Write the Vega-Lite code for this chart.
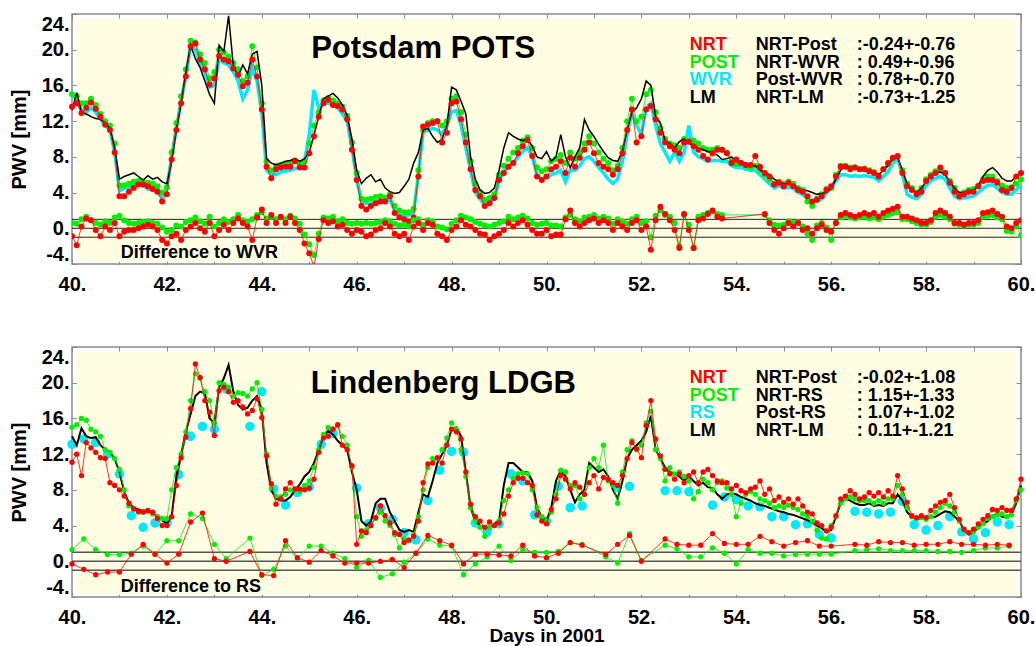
{
"$schema": "https://vega.github.io/schema/vega-lite/v6.json",
"padding": {"left": 8, "top": 12, "right": 12, "bottom": 0},
"spacing": 83,
"bounds": "flush",
"config": {
  "view": {"stroke": "#8a8a8a", "strokeWidth": 1.5, "fill": "#ffffff"},
  "axis": {"grid": false, "domain": false, "labelFont": "Liberation Sans", "labelFontWeight": "bold", "labelFontSize": 20, "labelColor": "#000000", "tickColor": "#8a8a8a", "tickWidth": 1, "titleFont": "Liberation Sans", "titleFontWeight": "bold", "titleFontSize": 20, "titleColor": "#000000", "labelOverlap": false},
  "text": {"font": "Liberation Sans", "fontWeight": "bold"},
  "mark": {"invalid": "filter"}
},
"datasets": {
"top": [
{"x":40.0,"n":13.6,"p":15.0,"w":14.8,"l":13.2,"dn":-0.9,"dp":0.6},
{"x":40.1,"n":14.0,"p":14.8,"w":14.5,"l":15.2,"dn":-1.9,"dp":0.5},
{"x":40.2,"n":12.9,"p":14.0,"w":13.2,"l":13.0,"dn":0.2,"dp":1.0},
{"x":40.3,"n":13.5,"p":14.0,"w":13.0,"l":12.8,"dn":1.1,"dp":1.3},
{"x":40.4,"n":14.1,"p":14.5,"w":13.5,"l":12.5,"dn":0.9,"dp":0.9},
{"x":40.5,"n":13.4,"p":13.8,"w":13.0,"l":12.3,"dn":-0.2,"dp":0.6},
{"x":40.6,"n":12.5,"p":12.8,"w":12.2,"l":12.2,"dn":-0.9,"dp":0.4},
{"x":40.7,"n":11.6,"p":12.0,"w":11.5,"l":11.8,"dn":0.2,"dp":0.8},
{"x":40.8,"n":11.0,"p":11.5,"w":11.0,"l":11.2,"dn":-0.2,"dp":0.6},
{"x":40.9,"n":8.5,"p":9.5,"w":8.5,"l":9.0,"dn":0.6,"dp":1.2},
{"x":41.0,"n":3.6,"p":4.8,"w":4.2,"l":5.5,"dn":-0.9,"dp":1.4},
{"x":41.1,"n":3.6,"p":4.8,"w":4.5,"l":5.8,"dn":-0.4,"dp":0.9},
{"x":41.2,"n":4.1,"p":5.0,"w":4.6,"l":6.0,"dn":-0.2,"dp":0.6},
{"x":41.3,"n":4.5,"p":5.2,"w":4.9,"l":6.2,"dn":-0.2,"dp":0.5},
{"x":41.4,"n":4.9,"p":5.3,"w":5.0,"l":5.8,"dn":0.0,"dp":0.6},
{"x":41.5,"n":4.9,"p":5.2,"w":4.8,"l":5.4,"dn":0.2,"dp":0.7},
{"x":41.6,"n":4.7,"p":5.1,"w":4.4,"l":5.9,"dn":0.4,"dp":0.8},
{"x":41.7,"n":4.4,"p":5.0,"w":4.3,"l":5.5,"dn":0.2,"dp":0.6},
{"x":41.8,"n":4.1,"p":4.7,"w":4.0,"l":5.7,"dn":-0.2,"dp":0.5},
{"x":41.9,"n":3.0,"p":4.0,"w":3.5,"l":5.2,"dn":-1.3,"dp":0.1},
{"x":42.0,"n":3.8,"p":4.6,"w":4.5,"l":5.0,"dn":-1.7,"dp":-0.4},
{"x":42.1,"n":7.7,"p":8.5,"w":8.0,"l":7.5,"dn":-0.9,"dp":-0.2},
{"x":42.2,"n":11.0,"p":11.8,"w":11.2,"l":11.0,"dn":-0.6,"dp":0.3},
{"x":42.3,"n":14.0,"p":14.8,"w":14.3,"l":14.0,"dn":-1.3,"dp":0.2},
{"x":42.4,"n":17.0,"p":17.8,"w":17.0,"l":17.5,"dn":-0.2,"dp":0.7},
{"x":42.5,"n":20.4,"p":21.0,"w":20.5,"l":20.5,"dn":0.2,"dp":0.9},
{"x":42.6,"n":20.7,"p":20.8,"w":20.0,"l":19.0,"dn":0.6,"dp":1.2},
{"x":42.7,"n":18.9,"p":19.5,"w":18.5,"l":18.0,"dn":0.0,"dp":0.8},
{"x":42.8,"n":17.8,"p":18.5,"w":17.5,"l":16.5,"dn":-0.4,"dp":0.5},
{"x":42.9,"n":16.1,"p":16.8,"w":15.8,"l":15.0,"dn":0.6,"dp":1.3},
{"x":43.0,"n":16.8,"p":17.5,"w":16.0,"l":14.0,"dn":-0.9,"dp":0.2},
{"x":43.1,"n":19.3,"p":20.0,"w":19.0,"l":20.5,"dn":-0.2,"dp":0.6},
{"x":43.2,"n":18.9,"p":19.7,"w":18.5,"l":19.8,"dn":0.4,"dp":1.0},
{"x":43.3,"n":18.7,"p":19.2,"w":18.3,"l":23.8,"dn":-0.2,"dp":0.7},
{"x":43.4,"n":17.9,"p":18.5,"w":17.5,"l":18.2,"dn":0.6,"dp":1.0},
{"x":43.5,"n":17.2,"p":17.8,"w":16.5,"l":17.0,"dn":1.1,"dp":1.5},
{"x":43.6,"n":15.9,"p":16.5,"w":14.5,"l":18.3,"dn":0.6,"dp":0.9},
{"x":43.7,"n":16.3,"p":17.0,"w":15.5,"l":17.3,"dn":0.2,"dp":0.7},
{"x":43.8,"n":18.9,"p":20.4,"w":18.0,"l":19.5,"dn":-1.3,"dp":1.0},
{"x":43.9,"n":17.0,"p":18.0,"w":16.5,"l":19.8,"dn":1.2,"dp":1.5},
{"x":44.0,"n":13.3,"p":14.0,"w":13.0,"l":16.0,"dn":2.1,"dp":1.8},
{"x":44.1,"n":6.9,"p":7.5,"w":6.5,"l":7.8,"dn":0.6,"dp":1.1},
{"x":44.2,"n":5.6,"p":6.5,"w":6.0,"l":7.3,"dn":1.5,"dp":1.3},
{"x":44.3,"n":6.6,"p":7.0,"w":6.0,"l":7.1,"dn":0.6,"dp":1.0},
{"x":44.4,"n":6.8,"p":7.1,"w":6.3,"l":7.3,"dn":1.3,"dp":1.2},
{"x":44.5,"n":6.9,"p":7.2,"w":6.4,"l":7.5,"dn":0.6,"dp":1.0},
{"x":44.6,"n":6.9,"p":7.3,"w":6.5,"l":7.6,"dn":1.3,"dp":1.4},
{"x":44.7,"n":7.5,"p":7.6,"w":6.7,"l":7.8,"dn":0.6,"dp":1.1},
{"x":44.8,"n":6.8,"p":7.3,"w":6.8,"l":7.5,"dn":-0.2,"dp":0.5},
{"x":44.9,"n":6.8,"p":7.5,"w":7.5,"l":7.8,"dn":-1.7,"dp":-0.7},
{"x":45.0,"n":8.4,"p":9.5,"w":10.5,"l":8.5,"dn":-2.8,"dp":-1.8},
{"x":45.1,"n":10.3,"p":11.5,"w":15.5,"l":10.5,"dn":-4.3,"dp":-3.0},
{"x":45.2,"n":12.5,"p":13.0,"w":13.5,"l":12.5,"dn":-1.2,"dp":-0.6},
{"x":45.3,"n":14.0,"p":14.3,"w":14.0,"l":14.5,"dn":0.9,"dp":1.2},
{"x":45.4,"n":14.4,"p":14.6,"w":14.0,"l":14.8,"dn":0.6,"dp":1.1},
{"x":45.5,"n":13.8,"p":14.3,"w":13.8,"l":15.1,"dn":0.8,"dp":1.3},
{"x":45.6,"n":13.7,"p":14.0,"w":13.5,"l":14.6,"dn":0.2,"dp":0.8},
{"x":45.7,"n":13.3,"p":13.6,"w":12.8,"l":13.8,"dn":0.4,"dp":1.0},
{"x":45.8,"n":12.2,"p":12.6,"w":12.0,"l":12.6,"dn":-0.2,"dp":0.6},
{"x":45.9,"n":8.8,"p":9.6,"w":9.0,"l":10.0,"dn":-0.6,"dp":0.5},
{"x":46.0,"n":5.4,"p":6.2,"w":5.5,"l":6.5,"dn":-0.2,"dp":0.6},
{"x":46.1,"n":2.5,"p":3.3,"w":3.0,"l":5.0,"dn":-0.4,"dp":0.5},
{"x":46.2,"n":2.1,"p":3.2,"w":2.8,"l":5.6,"dn":-0.9,"dp":0.6},
{"x":46.3,"n":2.5,"p":3.3,"w":2.7,"l":6.0,"dn":-0.7,"dp":0.5},
{"x":46.4,"n":2.8,"p":3.5,"w":3.0,"l":5.2,"dn":-0.2,"dp":0.6},
{"x":46.5,"n":3.0,"p":3.6,"w":3.0,"l":5.5,"dn":0.0,"dp":0.7},
{"x":46.6,"n":3.0,"p":3.4,"w":3.0,"l":4.5,"dn":0.6,"dp":0.9},
{"x":46.7,"n":3.6,"p":3.8,"w":3.2,"l":4.1,"dn":0.2,"dp":0.8},
{"x":46.8,"n":1.7,"p":2.5,"w":2.0,"l":3.9,"dn":-0.6,"dp":0.5},
{"x":46.9,"n":1.2,"p":2.0,"w":1.5,"l":4.0,"dn":-0.9,"dp":0.3},
{"x":47.0,"n":1.0,"p":1.8,"w":1.3,"l":4.7,"dn":-0.6,"dp":0.4},
{"x":47.1,"n":0.8,"p":1.8,"w":1.5,"l":5.5,"dn":-1.3,"dp":0.2},
{"x":47.2,"n":1.2,"p":2.2,"w":1.8,"l":7.3,"dn":0.2,"dp":0.9},
{"x":47.3,"n":5.8,"p":6.5,"w":6.0,"l":8.5,"dn":0.6,"dp":1.0},
{"x":47.4,"n":11.4,"p":11.0,"w":10.8,"l":11.0,"dn":-0.2,"dp":0.4},
{"x":47.5,"n":11.6,"p":11.8,"w":11.0,"l":11.2,"dn":0.6,"dp":0.9},
{"x":47.6,"n":11.8,"p":12.0,"w":11.2,"l":10.3,"dn":0.4,"dp":0.8},
{"x":47.7,"n":12.0,"p":12.0,"w":11.0,"l":9.6,"dn":-0.6,"dp":0.2},
{"x":47.8,"n":9.6,"p":11.5,"w":10.5,"l":10.0,"dn":-0.9,"dp":0.1},
{"x":47.9,"n":10.7,"p":12.0,"w":11.5,"l":11.5,"dn":-1.3,"dp":-0.1},
{"x":48.0,"n":14.0,"p":14.5,"w":13.0,"l":15.8,"dn":-0.2,"dp":0.5},
{"x":48.1,"n":14.2,"p":14.8,"w":13.2,"l":15.5,"dn":0.2,"dp":0.9},
{"x":48.2,"n":12.2,"p":13.0,"w":11.5,"l":14.2,"dn":0.9,"dp":1.4},
{"x":48.3,"n":9.6,"p":10.5,"w":9.0,"l":12.8,"dn":0.4,"dp":1.2},
{"x":48.4,"n":6.6,"p":7.5,"w":6.5,"l":8.0,"dn":0.2,"dp":1.0},
{"x":48.5,"n":4.3,"p":5.0,"w":4.0,"l":5.5,"dn":-0.2,"dp":0.7},
{"x":48.6,"n":3.6,"p":4.0,"w":3.3,"l":4.3,"dn":-0.6,"dp":0.5},
{"x":48.7,"n":2.5,"p":3.2,"w":2.6,"l":3.9,"dn":-0.7,"dp":0.3},
{"x":48.8,"n":2.8,"p":3.4,"w":2.8,"l":4.0,"dn":-1.3,"dp":0.2},
{"x":48.9,"n":3.4,"p":3.8,"w":3.3,"l":4.5,"dn":-0.9,"dp":0.4},
{"x":49.0,"n":5.4,"p":6.0,"w":5.3,"l":6.5,"dn":-0.6,"dp":0.6},
{"x":49.1,"n":6.2,"p":7.0,"w":6.3,"l":9.0,"dn":-0.2,"dp":0.8},
{"x":49.2,"n":6.9,"p":7.8,"w":7.0,"l":10.7,"dn":0.6,"dp":1.3},
{"x":49.3,"n":7.3,"p":8.5,"w":7.3,"l":10.3,"dn":0.2,"dp":1.0},
{"x":49.4,"n":8.4,"p":9.0,"w":8.0,"l":10.0,"dn":0.6,"dp":1.2},
{"x":49.5,"n":9.2,"p":9.8,"w":8.6,"l":9.8,"dn":0.9,"dp":1.4},
{"x":49.6,"n":9.9,"p":10.2,"w":9.0,"l":10.0,"dn":0.4,"dp":1.1},
{"x":49.7,"n":8.1,"p":9.0,"w":8.0,"l":9.2,"dn":-0.2,"dp":0.6},
{"x":49.8,"n":5.8,"p":6.8,"w":6.0,"l":8.0,"dn":-0.6,"dp":0.4},
{"x":49.9,"n":5.4,"p":6.4,"w":5.5,"l":7.8,"dn":-0.6,"dp":0.5},
{"x":50.0,"n":5.8,"p":6.6,"w":5.8,"l":8.6,"dn":-0.2,"dp":0.6},
{"x":50.1,"n":6.6,"p":7.5,"w":6.0,"l":7.5,"dn":-0.9,"dp":0.3},
{"x":50.2,"n":6.9,"p":7.8,"w":6.2,"l":8.0,"dn":-0.7,"dp":0.3},
{"x":50.3,"n":7.5,"p":8.2,"w":6.5,"l":10.5,"dn":-0.7,"dp":0.2},
{"x":50.4,"n":6.2,"p":7.3,"w":5.2,"l":8.0,"dn":1.0,"dp":1.2},
{"x":50.5,"n":7.9,"p":8.5,"w":6.5,"l":6.8,"dn":2.0,"dp":1.5},
{"x":50.6,"n":6.9,"p":7.8,"w":6.5,"l":8.0,"dn":0.6,"dp":1.0},
{"x":50.7,"n":7.9,"p":8.5,"w":7.0,"l":9.0,"dn":0.2,"dp":0.8},
{"x":50.8,"n":8.8,"p":9.5,"w":7.8,"l":12.2,"dn":0.6,"dp":1.2},
{"x":50.9,"n":9.6,"p":10.3,"w":8.0,"l":11.0,"dn":0.9,"dp":1.3},
{"x":51.0,"n":8.4,"p":9.5,"w":7.5,"l":10.3,"dn":1.1,"dp":1.5},
{"x":51.1,"n":7.3,"p":8.5,"w":6.8,"l":9.4,"dn":0.6,"dp":1.1},
{"x":51.2,"n":6.9,"p":7.8,"w":6.2,"l":8.6,"dn":0.9,"dp":1.3},
{"x":51.3,"n":6.6,"p":7.3,"w":5.5,"l":7.9,"dn":0.6,"dp":1.1},
{"x":51.4,"n":6.0,"p":6.5,"w":5.0,"l":7.6,"dn":-0.2,"dp":0.5},
{"x":51.5,"n":6.6,"p":7.0,"w":5.5,"l":7.5,"dn":0.6,"dp":1.0},
{"x":51.6,"n":8.4,"p":9.0,"w":7.5,"l":8.6,"dn":0.2,"dp":0.8},
{"x":51.7,"n":11.0,"p":12.0,"w":10.5,"l":11.0,"dn":-0.2,"dp":0.5},
{"x":51.8,"n":13.3,"p":14.5,"w":13.0,"l":13.0,"dn":0.6,"dp":1.0},
{"x":51.9,"n":9.6,"p":12.0,"w":11.5,"l":13.5,"dn":0.9,"dp":1.3},
{"x":52.0,"n":10.3,"p":12.5,"w":10.5,"l":14.5,"dn":-0.2,"dp":0.6},
{"x":52.1,"n":13.3,"p":15.0,"w":13.5,"l":16.5,"dn":0.2,"dp":0.8},
{"x":52.2,"n":13.7,"p":15.5,"w":14.0,"l":16.0,"dn":-2.4,"dp":-1.0},
{"x":52.3,"n":12.2,"p":13.0,"w":11.5,"l":12.5,"dn":0.9,"dp":1.4},
{"x":52.4,"n":10.7,"p":11.2,"w":9.5,"l":11.8,"dn":2.4,"dp":2.0},
{"x":52.5,"n":9.6,"p":10.0,"w":8.5,"l":9.8,"dn":1.6,"dp":1.5},
{"x":52.6,"n":9.2,"p":9.5,"w":7.5,"l":9.5,"dn":0.9,"dp":1.3},
{"x":52.7,"n":8.8,"p":9.3,"w":8.5,"l":9.0,"dn":-0.2,"dp":0.6},
{"x":52.8,"n":8.4,"p":9.0,"w":7.5,"l":9.7,"dn":-2.2,"dp":-2.0},
{"x":52.9,"n":9.6,"p":10.0,"w":8.5,"l":10.0,"dn":1.6,"dp":1.5},
{"x":53.0,"n":9.7,"p":9.8,"w":11.5,"l":9.5,"dn":-0.2,"dp":0.4},
{"x":53.1,"n":9.2,"p":9.8,"w":8.5,"l":9.3,"dn":-2.2,"dp":-2.2},
{"x":53.2,"n":8.8,"p":9.5,"w":8.0,"l":9.0,"dn":0.9,"dp":1.3},
{"x":53.3,"n":8.1,"p":9.0,"w":7.8,"l":8.8,"dn":1.1,"dp":1.5},
{"x":53.4,"n":7.7,"p":8.8,"w":7.5,"l":8.6,"dn":1.6,"dp":1.7},
{"x":53.5,"n":8.4,"p":8.8,"w":7.6,"l":8.4,"dn":2.0,"dp":1.9},
{"x":53.6,"n":8.8,"p":9.0,"w":7.6,"l":8.2,"dn":1.3,"dp":1.6},
{"x":53.7,"n":8.8,"p":8.8,"w":7.5,"l":7.7,"dn":1.1,"dp":1.5},
{"x":53.8,"n":8.4,"p":8.5,"w":7.5,"l":7.8},
{"x":53.9,"n":7.3,"p":7.5,"w":7.0,"l":8.0},
{"x":54.0,"n":7.7,"p":7.2,"w":6.8,"l":7.5},
{"x":54.1,"n":7.3,"p":7.3,"w":6.8,"l":7.4},
{"x":54.2,"n":7.1,"p":7.0,"w":6.6,"l":7.3},
{"x":54.3,"n":7.1,"p":6.8,"w":6.5,"l":7.0},
{"x":54.4,"n":8.1,"p":7.0,"w":6.5,"l":7.0},
{"x":54.5,"n":6.9,"p":6.5,"w":6.0,"l":6.5},
{"x":54.6,"n":6.2,"p":6.0,"w":5.5,"l":6.2,"dn":1.6,"dp":1.5},
{"x":54.7,"n":5.8,"p":5.5,"w":5.0,"l":6.0,"dn":0.6,"dp":0.9},
{"x":54.8,"n":4.9,"p":5.0,"w":4.5,"l":5.5,"dn":-0.2,"dp":0.4},
{"x":54.9,"n":5.1,"p":5.2,"w":4.8,"l":5.2,"dn":-0.6,"dp":0.3},
{"x":55.0,"n":4.7,"p":5.0,"w":4.5,"l":5.0,"dn":0.0,"dp":0.4},
{"x":55.1,"n":5.1,"p":5.2,"w":4.6,"l":5.0,"dn":0.6,"dp":0.8},
{"x":55.2,"n":4.7,"p":5.0,"w":4.5,"l":4.8,"dn":0.2,"dp":0.6},
{"x":55.3,"n":4.3,"p":4.5,"w":4.0,"l":4.5,"dn":0.6,"dp":0.7},
{"x":55.4,"n":4.1,"p":4.3,"w":3.8,"l":4.3,"dn":-0.2,"dp":0.2},
{"x":55.5,"n":3.6,"p":3.0,"w":3.3,"l":4.2,"dn":0.0,"dp":-0.6},
{"x":55.6,"n":3.0,"p":2.5,"w":3.0,"l":4.0,"dn":-0.6,"dp":-1.3},
{"x":55.7,"n":3.2,"p":3.3,"w":3.0,"l":3.8,"dn":0.0,"dp":0.3},
{"x":55.8,"n":3.6,"p":3.8,"w":3.3,"l":3.9,"dn":0.4,"dp":0.6},
{"x":55.9,"n":4.3,"p":4.4,"w":4.0,"l":4.0,"dn":-0.2,"dp":0.1},
{"x":56.0,"n":4.7,"p":4.5,"w":4.5,"l":4.5,"dn":-0.4,"dp":-1.3},
{"x":56.1,"n":5.8,"p":6.0,"w":5.3,"l":5.5,"dn":0.6,"dp":0.6},
{"x":56.2,"n":6.9,"p":7.0,"w":6.0,"l":6.5,"dn":1.5,"dp":1.2},
{"x":56.3,"n":6.9,"p":7.0,"w":6.0,"l":7.0,"dn":1.7,"dp":1.4},
{"x":56.4,"n":6.6,"p":6.8,"w":5.8,"l":6.8,"dn":1.5,"dp":1.2},
{"x":56.5,"n":6.8,"p":6.8,"w":5.9,"l":6.8,"dn":1.3,"dp":1.1},
{"x":56.6,"n":6.6,"p":6.6,"w":5.8,"l":6.7,"dn":1.5,"dp":1.2},
{"x":56.7,"n":6.6,"p":6.7,"w":5.9,"l":6.6,"dn":1.7,"dp":1.3},
{"x":56.8,"n":6.4,"p":6.5,"w":5.8,"l":6.5,"dn":1.5,"dp":1.1},
{"x":56.9,"n":6.2,"p":6.3,"w":5.7,"l":6.3,"dn":1.7,"dp":1.2},
{"x":57.0,"n":5.8,"p":5.9,"w":5.3,"l":6.0,"dn":1.3,"dp":1.0},
{"x":57.1,"n":6.6,"p":6.6,"w":5.8,"l":6.5,"dn":1.7,"dp":1.3},
{"x":57.2,"n":7.3,"p":7.2,"w":6.3,"l":7.0,"dn":2.0,"dp":1.5},
{"x":57.3,"n":7.9,"p":7.8,"w":7.3,"l":7.8,"dn":2.2,"dp":1.7},
{"x":57.4,"n":8.1,"p":8.0,"w":7.8,"l":7.9,"dn":2.4,"dp":1.8},
{"x":57.5,"n":6.2,"p":6.5,"w":6.0,"l":6.5,"dn":1.3,"dp":1.0},
{"x":57.6,"n":4.7,"p":5.0,"w":3.8,"l":5.0,"dn":1.3,"dp":1.0},
{"x":57.7,"n":4.3,"p":4.5,"w":3.5,"l":4.3,"dn":1.1,"dp":0.8},
{"x":57.8,"n":3.8,"p":4.0,"w":3.3,"l":4.0,"dn":0.9,"dp":0.6},
{"x":57.9,"n":4.1,"p":4.5,"w":3.8,"l":4.5,"dn":0.6,"dp":0.4},
{"x":58.0,"n":5.3,"p":5.5,"w":4.8,"l":5.2,"dn":0.6,"dp":0.4},
{"x":58.1,"n":5.8,"p":6.0,"w":5.3,"l":5.8,"dn":0.9,"dp":0.7},
{"x":58.2,"n":6.2,"p":6.4,"w":5.6,"l":6.2,"dn":1.7,"dp":1.3},
{"x":58.3,"n":6.8,"p":6.6,"w":5.8,"l":6.3,"dn":2.0,"dp":1.5},
{"x":58.4,"n":6.2,"p":6.2,"w":5.5,"l":6.0,"dn":1.7,"dp":1.3},
{"x":58.5,"n":5.1,"p":5.3,"w":4.5,"l":5.2,"dn":1.3,"dp":1.0},
{"x":58.6,"n":4.1,"p":4.5,"w":3.6,"l":4.5,"dn":0.6,"dp":0.5},
{"x":58.7,"n":3.6,"p":3.8,"w":3.3,"l":4.0,"dn":0.6,"dp":0.4},
{"x":58.8,"n":3.8,"p":4.0,"w":3.4,"l":4.0,"dn":0.4,"dp":0.3},
{"x":58.9,"n":4.1,"p":4.3,"w":3.5,"l":4.2,"dn":0.6,"dp":0.4},
{"x":59.0,"n":4.1,"p":4.4,"w":3.6,"l":4.2,"dn":0.6,"dp":0.4},
{"x":59.1,"n":4.7,"p":4.8,"w":4.0,"l":4.8,"dn":0.9,"dp":0.6},
{"x":59.2,"n":5.3,"p":5.5,"w":4.5,"l":5.8,"dn":1.7,"dp":1.3},
{"x":59.3,"n":5.4,"p":5.8,"w":4.8,"l":6.5,"dn":1.8,"dp":1.4},
{"x":59.4,"n":5.4,"p":5.8,"w":4.9,"l":6.8,"dn":2.0,"dp":1.5},
{"x":59.5,"n":5.1,"p":5.3,"w":4.5,"l":6.3,"dn":1.6,"dp":1.2},
{"x":59.6,"n":4.3,"p":4.8,"w":4.0,"l":5.6,"dn":1.3,"dp":1.0},
{"x":59.7,"n":4.1,"p":4.5,"w":3.8,"l":5.3,"dn":0.2,"dp":-0.3},
{"x":59.8,"n":4.5,"p":4.6,"w":3.8,"l":5.3,"dn":0.0,"dp":-0.4},
{"x":59.9,"n":5.8,"p":5.0,"w":4.3,"l":5.8,"dn":0.6,"dp":0.2},
{"x":60.0,"n":6.2,"p":5.5,"w":4.8,"l":6.2,"dn":0.9,"dp":-0.8}
],
"bot": [
{"x":40.0,"n":11.1,"p":15.0,"l":14.0},
{"x":40.1,"n":12.0,"p":15.3,"l":13.0},
{"x":40.2,"n":9.6,"p":16.0,"l":14.9},
{"x":40.3,"n":13.3,"p":15.8,"l":14.0},
{"x":40.4,"n":12.7,"p":14.8,"l":13.8},
{"x":40.5,"n":12.2,"p":14.5,"l":13.9},
{"x":40.6,"n":11.6,"p":14.0,"l":13.0},
{"x":40.7,"n":11.5,"p":12.5,"l":12.5},
{"x":40.8,"n":8.8,"p":12.2,"l":12.2},
{"x":40.9,"n":8.5,"p":11.5,"l":11.5},
{"x":41.0,"n":8.0,"p":10.3,"l":10.0},
{"x":41.1,"n":7.3,"p":8.0,"l":7.8},
{"x":41.2,"n":6.5,"p":6.2,"l":6.5},
{"x":41.3,"n":5.9,"p":5.8,"l":6.0},
{"x":41.4,"n":5.6,"p":5.5,"l":5.8},
{"x":41.5,"n":5.5,"p":5.6,"l":5.7},
{"x":41.6,"n":5.7,"p":5.6,"l":5.7},
{"x":41.7,"n":5.5,"p":5.3,"l":5.4},
{"x":41.8,"n":4.8,"p":5.0,"l":5.0},
{"x":41.9,"n":4.0,"p":4.8,"l":4.6},
{"x":42.0,"n":4.0,"p":4.8,"l":4.2},
{"x":42.1,"n":5.0,"p":8.0,"l":5.0},
{"x":42.2,"n":8.5,"p":10.5,"l":9.5},
{"x":42.3,"n":11.6,"p":12.0,"l":12.0},
{"x":42.4,"n":13.9,"p":14.5,"l":14.5},
{"x":42.5,"n":17.1,"p":18.0,"l":16.5},
{"x":42.6,"n":22.1,"p":21.0,"l":18.5},
{"x":42.7,"n":20.6,"p":20.5,"l":19.0},
{"x":42.8,"n":18.0,"p":19.0,"l":18.8},
{"x":42.9,"n":16.7,"p":18.0,"l":16.0},
{"x":43.0,"n":14.1,"p":15.5,"l":15.5},
{"x":43.1,"n":19.1,"p":20.0,"l":19.5},
{"x":43.2,"n":19.5,"p":19.8,"l":20.5},
{"x":43.3,"n":19.0,"p":19.5,"l":22.0},
{"x":43.4,"n":17.8,"p":18.5,"l":19.0},
{"x":43.5,"n":18.0,"p":18.9,"l":17.5},
{"x":43.6,"n":17.3,"p":18.8,"l":17.0},
{"x":43.7,"n":16.5,"p":18.5,"l":17.2},
{"x":43.8,"n":16.9,"p":19.3,"l":18.0},
{"x":43.9,"n":18.2,"p":20.0,"l":18.5},
{"x":44.0,"n":16.1,"p":17.0,"l":17.0},
{"x":44.1,"n":11.8,"p":12.0,"l":11.0},
{"x":44.2,"n":8.7,"p":8.2,"l":8.0},
{"x":44.3,"n":6.4,"p":7.3,"l":7.0},
{"x":44.4,"n":7.0,"p":7.2,"l":6.8},
{"x":44.5,"n":8.1,"p":7.5,"l":6.8},
{"x":44.6,"n":8.8,"p":8.0,"l":7.2},
{"x":44.7,"n":8.1,"p":8.0,"l":8.0},
{"x":44.8,"n":8.1,"p":7.8,"l":8.6},
{"x":44.9,"n":8.0,"p":8.5,"l":9.5},
{"x":45.0,"n":8.2,"p":9.0,"l":10.0},
{"x":45.1,"n":9.2,"p":10.5,"l":11.0},
{"x":45.2,"n":12.2,"p":12.5,"l":12.5},
{"x":45.3,"n":13.8,"p":14.2,"l":14.0},
{"x":45.4,"n":14.0,"p":15.0,"l":14.6},
{"x":45.5,"n":14.8,"p":14.8,"l":14.2},
{"x":45.6,"n":15.3,"p":15.2,"l":13.5},
{"x":45.7,"n":13.0,"p":14.0,"l":13.0},
{"x":45.8,"n":12.5,"p":13.0,"l":12.5},
{"x":45.9,"n":10.7,"p":10.5,"l":10.0},
{"x":46.0,"n":1.9,"p":5.0,"l":8.0},
{"x":46.1,"n":3.4,"p":2.8,"l":4.5},
{"x":46.2,"n":3.2,"p":3.5,"l":4.0},
{"x":46.3,"n":4.0,"p":4.0,"l":4.5},
{"x":46.4,"n":4.9,"p":4.8,"l":6.5},
{"x":46.5,"n":6.2,"p":5.5,"l":7.0},
{"x":46.6,"n":5.1,"p":4.5,"l":7.0},
{"x":46.7,"n":4.3,"p":4.0,"l":5.5},
{"x":46.8,"n":3.2,"p":3.0,"l":4.5},
{"x":46.9,"n":3.0,"p":1.5,"l":3.5},
{"x":47.0,"n":2.1,"p":2.5,"l":3.3},
{"x":47.1,"n":2.4,"p":2.3,"l":3.5},
{"x":47.2,"n":2.8,"p":3.0,"l":3.3},
{"x":47.3,"n":4.5,"p":5.0,"l":5.5},
{"x":47.4,"n":8.8,"p":8.0,"l":7.5},
{"x":47.5,"n":10.9,"p":10.5,"l":7.2},
{"x":47.6,"n":11.0,"p":11.5,"l":9.0},
{"x":47.7,"n":11.6,"p":11.5,"l":11.0},
{"x":47.8,"n":11.0,"p":12.5,"l":12.0},
{"x":47.9,"n":13.0,"p":13.8,"l":13.0},
{"x":48.0,"n":14.8,"p":15.5,"l":14.8},
{"x":48.1,"n":14.5,"p":14.8,"l":15.0},
{"x":48.2,"n":13.7,"p":12.5,"l":14.0},
{"x":48.3,"n":10.0,"p":9.5,"l":10.0},
{"x":48.4,"n":6.4,"p":6.0,"l":6.0},
{"x":48.5,"n":5.0,"p":4.5,"l":4.5},
{"x":48.6,"n":4.5,"p":3.8,"l":4.0},
{"x":48.7,"n":3.8,"p":2.8,"l":3.8},
{"x":48.8,"n":4.4,"p":3.8,"l":3.8},
{"x":48.9,"n":4.0,"p":4.0,"l":4.2},
{"x":49.0,"n":4.3,"p":4.5,"l":4.5},
{"x":49.1,"n":5.3,"p":6.8,"l":8.5},
{"x":49.2,"n":7.3,"p":8.0,"l":11.0},
{"x":49.3,"n":8.8,"p":9.3,"l":11.0},
{"x":49.4,"n":9.3,"p":9.8,"l":10.5},
{"x":49.5,"n":9.3,"p":9.9,"l":10.0},
{"x":49.6,"n":8.8,"p":9.8,"l":10.0},
{"x":49.7,"n":8.5,"p":8.0,"l":9.0},
{"x":49.8,"n":5.2,"p":6.0,"l":6.0},
{"x":49.9,"n":4.5,"p":5.0,"l":5.0},
{"x":50.0,"n":4.2,"p":4.5,"l":4.5},
{"x":50.1,"n":5.8,"p":5.5,"l":6.0},
{"x":50.2,"n":7.0,"p":7.5,"l":9.0},
{"x":50.3,"n":9.6,"p":10.2,"l":10.2},
{"x":50.4,"n":9.2,"p":10.0,"l":9.5},
{"x":50.5,"n":8.1,"p":8.5,"l":8.0},
{"x":50.6,"n":8.8,"p":8.5,"l":6.6},
{"x":50.7,"n":8.3,"p":7.0,"l":7.5},
{"x":50.8,"n":7.5,"p":7.5,"l":8.0},
{"x":50.9,"n":8.8,"p":10.5,"l":11.0},
{"x":51.0,"n":9.6,"p":11.5,"l":10.5},
{"x":51.1,"n":8.1,"p":10.5,"l":10.0},
{"x":51.2,"n":9.4,"p":13.0,"l":10.3},
{"x":51.3,"n":9.2,"p":9.0,"l":9.5},
{"x":51.4,"n":8.8,"p":8.5,"l":8.0},
{"x":51.5,"n":8.5,"p":6.5,"l":7.0},
{"x":51.6,"n":9.6,"p":10.0,"l":9.0},
{"x":51.7,"n":11.5,"p":12.5,"l":11.5},
{"x":51.8,"n":13.3,"p":13.5,"l":12.5},
{"x":51.9,"n":12.6,"p":12.5,"l":13.0},
{"x":52.0,"n":11.6,"p":13.0,"l":13.5},
{"x":52.1,"n":15.2,"p":15.5,"l":14.5},
{"x":52.2,"n":18.0,"p":16.8,"l":16.3},
{"x":52.3,"n":13.7,"p":12.5,"l":12.5},
{"x":52.4,"n":11.8,"p":11.5,"l":11.5},
{"x":52.5,"n":10.3,"p":9.0,"l":10.5},
{"x":52.6,"n":9.8,"p":10.5,"l":10.0},
{"x":52.7,"n":9.2,"p":9.8,"l":9.8},
{"x":52.8,"n":9.8,"p":10.0,"l":9.5},
{"x":52.9,"n":8.8,"p":9.5,"l":9.0},
{"x":53.0,"n":9.6,"p":9.0,"l":9.5},
{"x":53.1,"n":10.0,"p":7.0,"l":9.0},
{"x":53.2,"n":8.8,"p":7.8,"l":8.5},
{"x":53.3,"n":10.0,"p":9.2,"l":8.8},
{"x":53.4,"n":10.3,"p":8.8,"l":8.3},
{"x":53.5,"n":9.6,"p":8.0,"l":8.2},
{"x":53.6,"n":9.0,"p":8.8,"l":7.5},
{"x":53.7,"n":8.8,"p":9.0,"l":7.0},
{"x":53.8,"n":8.8,"p":8.2,"l":7.5},
{"x":53.9,"n":8.1,"p":7.5,"l":7.6},
{"x":54.0,"n":8.5,"p":5.0,"l":7.5},
{"x":54.1,"n":7.9,"p":6.5,"l":7.2},
{"x":54.2,"n":7.7,"p":7.5,"l":7.0},
{"x":54.3,"n":8.1,"p":7.8,"l":6.8},
{"x":54.4,"n":8.3,"p":7.5,"l":6.5},
{"x":54.5,"n":9.0,"p":7.0,"l":6.3},
{"x":54.6,"n":7.5,"p":6.8,"l":6.2},
{"x":54.7,"n":8.1,"p":6.5,"l":6.0},
{"x":54.8,"n":6.8,"p":6.0,"l":5.8},
{"x":54.9,"n":7.2,"p":6.2,"l":5.6},
{"x":55.0,"n":6.6,"p":6.0,"l":5.5},
{"x":55.1,"n":7.0,"p":6.3,"l":5.3},
{"x":55.2,"n":6.4,"p":6.0,"l":5.2},
{"x":55.3,"n":7.0,"p":5.8,"l":5.0},
{"x":55.4,"n":6.2,"p":5.3,"l":4.8},
{"x":55.5,"n":5.5,"p":5.0,"l":4.6},
{"x":55.6,"n":5.3,"p":4.5,"l":4.3},
{"x":55.7,"n":4.3,"p":3.5,"l":4.0},
{"x":55.8,"n":4.0,"p":2.6,"l":3.7},
{"x":55.9,"n":3.4,"p":2.5,"l":3.3},
{"x":56.0,"n":3.8,"p":4.0,"l":3.5},
{"x":56.1,"n":5.1,"p":5.0,"l":5.0},
{"x":56.2,"n":7.0,"p":6.5,"l":6.5},
{"x":56.3,"n":7.3,"p":7.0,"l":7.0},
{"x":56.4,"n":7.9,"p":7.2,"l":6.8},
{"x":56.5,"n":7.5,"p":7.0,"l":6.5},
{"x":56.6,"n":7.0,"p":6.8,"l":6.3},
{"x":56.7,"n":7.2,"p":6.8,"l":6.3},
{"x":56.8,"n":7.7,"p":6.8,"l":6.5},
{"x":56.9,"n":7.3,"p":6.5,"l":6.2},
{"x":57.0,"n":7.7,"p":6.8,"l":6.3},
{"x":57.1,"n":7.2,"p":6.5,"l":6.2},
{"x":57.2,"n":7.9,"p":7.0,"l":6.5},
{"x":57.3,"n":7.3,"p":7.0,"l":6.5},
{"x":57.4,"n":9.6,"p":8.5,"l":7.5},
{"x":57.5,"n":8.1,"p":7.5,"l":6.8},
{"x":57.6,"n":6.6,"p":6.0,"l":5.5},
{"x":57.7,"n":5.1,"p":5.0,"l":5.0},
{"x":57.8,"n":4.9,"p":4.8,"l":4.7},
{"x":57.9,"n":5.1,"p":4.9,"l":4.8},
{"x":58.0,"n":4.9,"p":4.7,"l":4.9},
{"x":58.1,"n":5.7,"p":5.0,"l":5.0},
{"x":58.2,"n":6.2,"p":5.5,"l":5.0},
{"x":58.3,"n":6.6,"p":6.0,"l":5.3},
{"x":58.4,"n":6.8,"p":6.5,"l":5.6},
{"x":58.5,"n":7.5,"p":6.2,"l":5.5},
{"x":58.6,"n":6.0,"p":5.5,"l":5.0},
{"x":58.7,"n":4.7,"p":4.5,"l":4.5},
{"x":58.8,"n":3.6,"p":3.5,"l":3.5},
{"x":58.9,"n":3.2,"p":3.2,"l":3.0},
{"x":59.0,"n":3.6,"p":3.3,"l":3.2},
{"x":59.1,"n":4.2,"p":3.8,"l":3.8},
{"x":59.2,"n":4.7,"p":4.2,"l":4.2},
{"x":59.3,"n":5.1,"p":4.8,"l":4.5},
{"x":59.4,"n":5.8,"p":5.0,"l":5.0},
{"x":59.5,"n":5.7,"p":5.2,"l":5.4},
{"x":59.6,"n":6.0,"p":5.3,"l":5.0},
{"x":59.7,"n":5.7,"p":5.0,"l":5.0},
{"x":59.8,"n":5.7,"p":5.2,"l":5.3},
{"x":59.9,"n":7.0,"p":6.8,"l":6.5},
{"x":60.0,"n":9.2,"p":8.0,"l":8.5}
],
"rs": [
{"x":40.0,"r":13.1,"dn":-0.3,"dp":1.3},
{"x":40.25,"r":13.7,"dn":-0.9,"dp":2.5},
{"x":40.5,"r":13.3,"dn":-1.5,"dp":1.3},
{"x":40.75,"r":12.0,"dn":-1.2,"dp":0.75},
{"x":41.0,"r":9.8,"dn":-1.2,"dp":0.75},
{"x":41.25,"r":5.1,"dn":0.8,"dp":0.9},
{"x":41.5,"r":3.8,"dn":1.9,"dp":1.7},
{"x":41.75,"r":4.3,"dn":0.8,"dp":0.8},
{"x":42.0,"r":4.3,"dn":-0.2,"dp":2.3},
{"x":42.25,"r":9.7,"dn":0.8,"dp":2.3},
{"x":42.5,"r":14.0,"dn":4.4,"dp":5.3},
{"x":42.75,"r":15.1,"dn":5.4,"dp":4.8},
{"x":43.0,"r":14.8,"dn":0.3,"dp":1.9},
{"x":43.25,"r":19.3,"dn":0.0,"dp":0.3},
{"x":43.75,"r":15.1,"dn":1.1,"dp":2.6},
{"x":44.0,"r":19.0,"dn":-1.5,"dp":-1.6},
{"x":44.25,"r":8.1,"dn":-1.6,"dp":-0.9},
{"x":44.5,"r":6.3,"dn":2.3,"dp":1.7},
{"x":44.75,"r":7.7,"dn":0.4,"dp":0.3},
{"x":45.0,"r":8.3,"dn":-0.1,"dp":1.7},
{"x":45.25,"r":13.1,"dn":1.2,"dp":1.7},
{"x":45.5,"r":14.3,"dn":0.6,"dp":0.9},
{"x":45.75,"dn":-0.2,"dp":0.3},
{"x":46.0,"r":8.2,"dn":-0.2,"dp":-0.7},
{"x":46.25,"r":4.2,"dn":-0.2,"dp":0.1},
{"x":46.5,"r":6.0,"dn":0.0,"dp":-1.8},
{"x":46.75,"r":4.7,"dn":0.2,"dp":-1.4},
{"x":47.0,"r":3.2,"dn":-0.7,"dp":-0.1},
{"x":47.25,"r":2.4,"dn":0.9,"dp":0.9},
{"x":47.5,"r":6.8,"dn":2.9,"dp":2.5},
{"x":47.75,"r":10.2,"dn":2.3,"dp":1.8},
{"x":48.0,"r":12.3,"dn":1.8,"dp":1.7},
{"x":48.25,"r":12.2,"dn":-0.3,"dp":-1.5},
{"x":48.5,"r":4.3,"dn":0.8,"dp":-0.3},
{"x":48.75,"r":3.3,"dn":0.8,"dp":0.5},
{"x":49.0,"r":4.2,"dn":0.7,"dp":1.7},
{"x":49.25,"r":9.8,"dn":0.6,"dp":0.1},
{"x":49.5,"r":9.0,"dn":1.8,"dp":1.3},
{"x":49.75,"r":5.2,"dn":0.6,"dp":1.0},
{"x":50.0,"r":4.5,"dn":0.4,"dp":1.0},
{"x":50.25,"r":8.4,"dn":0.9,"dp":1.1},
{"x":50.5,"r":6.0,"dn":2.1,"dp":2.1},
{"x":50.75,"r":6.2,"dn":1.8,"dp":1.9},
{"x":51.25,"dn":0.75,"dp":0.5},
{"x":51.5,"r":8.3,"dn":1.9,"dp":-0.2},
{"x":51.75,"r":8.4,"dn":2.9,"dp":3.1},
{"x":52.0,"dn":0.0,"dp":0.1},
{"x":52.5,"r":7.9,"dn":2.5,"dp":1.8},
{"x":52.75,"r":7.9,"dn":1.9,"dp":1.4},
{"x":53.0,"r":7.8,"dn":1.8,"dp":0.5},
{"x":53.25,"dn":1.8,"dp":0.5},
{"x":53.5,"r":6.3,"dn":3.1,"dp":1.5},
{"x":53.75,"r":7.2,"dn":2.0,"dp":0.9},
{"x":54.0,"r":6.9,"dn":1.9,"dp":-0.3},
{"x":54.25,"r":6.2,"dn":1.9,"dp":1.3},
{"x":54.5,"r":6.1,"dn":2.8,"dp":0.9},
{"x":54.75,"r":5.0,"dn":2.2,"dp":0.9},
{"x":55.0,"r":5.0,"dn":1.7,"dp":0.6},
{"x":55.25,"r":4.1,"dn":2.1,"dp":0.75},
{"x":55.5,"r":4.2,"dn":2.3,"dp":0.8},
{"x":55.75,"r":3.0,"dn":1.7,"dp":0.8},
{"x":56.0,"r":2.6,"dn":1.7,"dp":0.8},
{"x":56.5,"r":5.6,"dn":1.9,"dp":1.2},
{"x":56.75,"r":5.5,"dn":1.8,"dp":1.3},
{"x":57.0,"r":5.3,"dn":2.2,"dp":1.4},
{"x":57.25,"r":5.5,"dn":2.1,"dp":1.2},
{"x":57.5,"r":6.7,"dn":2.1,"dp":1.2},
{"x":57.75,"r":4.1,"dn":1.8,"dp":1.2},
{"x":58.0,"r":3.5,"dn":1.9,"dp":1.2},
{"x":58.25,"r":4.0,"dn":1.9,"dp":1.1},
{"x":58.5,"r":5.0,"dn":2.2,"dp":1.1},
{"x":58.75,"r":3.3,"dn":1.9,"dp":1.0},
{"x":59.0,"r":2.5,"dn":1.9,"dp":1.2},
{"x":59.25,"r":3.2,"dn":1.8,"dp":1.5},
{"x":59.5,"r":4.4,"dn":1.9,"dp":1.5},
{"x":59.75,"r":4.1,"dn":1.8,"dp":1.7}
]
},
"vconcat": [
{
  "width": 949, "height": 250,
  "data": {"name": "top"},
  "resolve": {"axis": {"x": "independent", "y": "independent"}},
  "layer": [
    {"data": {"values": [{}]}, "mark": {"type": "rect", "color": "#fffde2"},
     "encoding": {"x": {"datum": 40.1, "type": "quantitative", "scale": {"domain": [40, 60], "nice": false, "zero": false}, "axis": null}, "x2": {"datum": 59.91},
                  "y": {"datum": -3.75, "type": "quantitative", "scale": {"domain": [-4, 24], "nice": false, "zero": false}, "axis": null}, "y2": {"datum": 23.5}}},
    {"data": {"values": [{"v": -1}, {"v": 0}, {"v": 1}]}, "mark": {"type": "rule", "color": "#222222", "strokeWidth": 1},
     "encoding": {"y": {"field": "v", "type": "quantitative", "scale": {"domain": [-4, 24], "nice": false, "zero": false},
        "axis": {"orient": "left", "values": [-4, 0, 4, 8, 12, 16, 20, 24], "labelExpr": "datum.value + '.'", "title": "PWV [mm]", "tickSize": -5, "labelPadding": 8, "labelFlush": true, "titlePadding": 12}}}},
    {"mark": {"type": "line", "color": "#00eaff", "strokeWidth": 3.5},
     "encoding": {"x": {"field": "x", "type": "quantitative", "scale": {"domain": [40, 60], "nice": false, "zero": false},
        "axis": {"orient": "bottom", "values": [40,41,42,43,44,45,46,47,48,49,50,51,52,53,54,55,56,57,58,59,60], "labelExpr": "datum.value % 2 == 0 ? datum.value + '.' : ''", "labelFlush": false, "tickSize": -5, "labelPadding": 15, "title": null}},
        "y": {"field": "w", "type": "quantitative", "scale": {"domain": [-4, 24], "nice": false, "zero": false},
        "axis": {"orient": "right", "values": [-4, 0, 4, 8, 12, 16, 20, 24], "labels": false, "tickSize": -6, "title": null}}}},
    {"mark": {"type": "line", "color": "#00ee00", "strokeWidth": 0.8, "point": {"filled": true, "size": 36, "color": "#00ee00", "opacity": 1}},
     "encoding": {"x": {"field": "x", "type": "quantitative", "scale": {"domain": [40, 60], "nice": false, "zero": false},
        "axis": {"orient": "top", "values": [40,41,42,43,44,45,46,47,48,49,50,51,52,53,54,55,56,57,58,59,60], "labels": false, "tickSize": -5, "title": null}},
        "y": {"field": "p", "type": "quantitative", "scale": {"domain": [-4, 24], "nice": false, "zero": false}, "axis": null}}},
    {"mark": {"type": "line", "color": "#000000", "strokeWidth": 1.5},
     "encoding": {"x": {"field": "x", "type": "quantitative", "scale": {"domain": [40, 60], "nice": false, "zero": false}, "axis": null},
        "y": {"field": "l", "type": "quantitative", "scale": {"domain": [-4, 24], "nice": false, "zero": false}, "axis": null}}},
    {"mark": {"type": "line", "color": "#ff0000", "strokeWidth": 0.8, "point": {"filled": true, "size": 36, "color": "#ff0000", "opacity": 1}},
     "encoding": {"x": {"field": "x", "type": "quantitative", "scale": {"domain": [40, 60], "nice": false, "zero": false}, "axis": null},
        "y": {"field": "n", "type": "quantitative", "scale": {"domain": [-4, 24], "nice": false, "zero": false}, "axis": null}}},
    {"mark": {"type": "line", "color": "#00ee00", "strokeWidth": 0.8, "clip": true, "point": {"filled": true, "size": 36, "color": "#00ee00", "opacity": 1}},
     "encoding": {"x": {"field": "x", "type": "quantitative", "scale": {"domain": [40, 60], "nice": false, "zero": false}, "axis": null},
        "y": {"field": "dp", "type": "quantitative", "scale": {"domain": [-4, 24], "nice": false, "zero": false}, "axis": null}}},
    {"mark": {"type": "line", "color": "#ff0000", "strokeWidth": 0.8, "clip": true, "point": {"filled": true, "size": 36, "color": "#ff0000", "opacity": 1}},
     "encoding": {"x": {"field": "x", "type": "quantitative", "scale": {"domain": [40, 60], "nice": false, "zero": false}, "axis": null},
        "y": {"field": "dn", "type": "quantitative", "scale": {"domain": [-4, 24], "nice": false, "zero": false}, "axis": null}}},
    {"data": {"values": [{"t": "Potsdam POTS", "x": 45.04, "y": 19.03}]},
     "mark": {"type": "text", "align": "left", "baseline": "alphabetic", "fontSize": 31, "color": "#000000"},
     "encoding": {"x": {"field": "x", "type": "quantitative", "scale": {"domain": [40, 60], "nice": false, "zero": false}, "axis": null},
        "y": {"field": "y", "type": "quantitative", "scale": {"domain": [-4, 24], "nice": false, "zero": false}, "axis": null}, "text": {"field": "t"}}},
    {"data": {"values": [{"t": "Difference to WVR", "x": 41.03, "y": -3.29}]},
     "mark": {"type": "text", "align": "left", "baseline": "alphabetic", "fontSize": 18, "color": "#000000"},
     "encoding": {"x": {"field": "x", "type": "quantitative", "scale": {"domain": [40, 60], "nice": false, "zero": false}, "axis": null},
        "y": {"field": "y", "type": "quantitative", "scale": {"domain": [-4, 24], "nice": false, "zero": false}, "axis": null}, "text": {"field": "t"}}},
    {"data": {"values": [
        {"t": "NRT", "x": 53.02, "y": 20.0, "c": "NRT"},
        {"t": "POST", "x": 53.02, "y": 18.0, "c": "POST"},
        {"t": "WVR", "x": 53.02, "y": 16.05, "c": "WVR"},
        {"t": "LM", "x": 53.02, "y": 14.05, "c": "LM"},
        {"t": "NRT-Post", "x": 54.41, "y": 20.0, "c": "LM"},
        {"t": "NRT-WVR", "x": 54.41, "y": 18.0, "c": "LM"},
        {"t": "Post-WVR", "x": 54.41, "y": 16.05, "c": "LM"},
        {"t": "NRT-LM", "x": 54.41, "y": 14.05, "c": "LM"},
        {"t": ":-0.24+-0.76", "x": 56.54, "y": 20.0, "c": "LM"},
        {"t": ": 0.49+-0.96", "x": 56.54, "y": 18.0, "c": "LM"},
        {"t": ": 0.78+-0.70", "x": 56.54, "y": 16.05, "c": "LM"},
        {"t": ":-0.73+-1.25", "x": 56.54, "y": 14.05, "c": "LM"}]},
     "mark": {"type": "text", "align": "left", "baseline": "alphabetic", "fontSize": 18},
     "encoding": {"x": {"field": "x", "type": "quantitative", "scale": {"domain": [40, 60], "nice": false, "zero": false}, "axis": null},
        "y": {"field": "y", "type": "quantitative", "scale": {"domain": [-4, 24], "nice": false, "zero": false}, "axis": null}, "text": {"field": "t"},
        "color": {"field": "c", "type": "nominal", "scale": {"domain": ["NRT", "POST", "WVR", "RS", "LM"], "range": ["#ff0000", "#00ee00", "#00eaff", "#00eaff", "#000000"]}, "legend": null}}}
  ]
},
{
  "width": 949, "height": 250,
  "data": {"name": "bot"},
  "resolve": {"axis": {"x": "independent", "y": "independent"}},
  "layer": [
    {"data": {"values": [{}]}, "mark": {"type": "rect", "color": "#fffde2"},
     "encoding": {"x": {"datum": 40.1, "type": "quantitative", "scale": {"domain": [40, 60], "nice": false, "zero": false}, "axis": null}, "x2": {"datum": 59.91},
                  "y": {"datum": -3.75, "type": "quantitative", "scale": {"domain": [-4, 24], "nice": false, "zero": false}, "axis": null}, "y2": {"datum": 23.5}}},
    {"data": {"values": [{"v": -1}, {"v": 0}, {"v": 1}]}, "mark": {"type": "rule", "color": "#555555", "strokeWidth": 1.5},
     "encoding": {"y": {"field": "v", "type": "quantitative", "scale": {"domain": [-4, 24], "nice": false, "zero": false},
        "axis": {"orient": "left", "values": [-4, 0, 4, 8, 12, 16, 20, 24], "labelExpr": "datum.value + '.'", "title": "PWV [mm]", "tickSize": -5, "labelPadding": 8, "labelFlush": true, "titlePadding": 12}}}},
    {"data": {"name": "rs"}, "mark": {"type": "point", "filled": true, "size": 90, "color": "#00eaff", "opacity": 1},
     "encoding": {"x": {"field": "x", "type": "quantitative", "scale": {"domain": [40, 60], "nice": false, "zero": false},
        "axis": {"orient": "bottom", "values": [40,41,42,43,44,45,46,47,48,49,50,51,52,53,54,55,56,57,58,59,60], "labelExpr": "datum.value % 2 == 0 ? datum.value + '.' : ''", "labelFlush": false, "tickSize": -5, "labelPadding": 15, "title": "Days in 2001", "titleFontSize": 19, "titlePadding": -1}},
        "y": {"field": "r", "type": "quantitative", "scale": {"domain": [-4, 24], "nice": false, "zero": false},
        "axis": {"orient": "right", "values": [-4, 0, 4, 8, 12, 16, 20, 24], "labels": false, "tickSize": -6, "title": null}}}},
    {"mark": {"type": "line", "color": "#000000", "strokeWidth": 2},
     "encoding": {"x": {"field": "x", "type": "quantitative", "scale": {"domain": [40, 60], "nice": false, "zero": false},
        "axis": {"orient": "top", "values": [40,41,42,43,44,45,46,47,48,49,50,51,52,53,54,55,56,57,58,59,60], "labels": false, "tickSize": -5, "title": null}},
        "y": {"field": "l", "type": "quantitative", "scale": {"domain": [-4, 24], "nice": false, "zero": false}, "axis": null}}},
    {"mark": {"type": "line", "color": "#00ee00", "strokeWidth": 0.8, "point": {"filled": true, "size": 28, "color": "#00ee00", "opacity": 1}},
     "encoding": {"x": {"field": "x", "type": "quantitative", "scale": {"domain": [40, 60], "nice": false, "zero": false}, "axis": null},
        "y": {"field": "p", "type": "quantitative", "scale": {"domain": [-4, 24], "nice": false, "zero": false}, "axis": null}}},
    {"mark": {"type": "line", "color": "#ff0000", "strokeWidth": 0.8, "point": {"filled": true, "size": 28, "color": "#ff0000", "opacity": 1}},
     "encoding": {"x": {"field": "x", "type": "quantitative", "scale": {"domain": [40, 60], "nice": false, "zero": false}, "axis": null},
        "y": {"field": "n", "type": "quantitative", "scale": {"domain": [-4, 24], "nice": false, "zero": false}, "axis": null}}},
    {"data": {"name": "rs"}, "mark": {"type": "line", "color": "#00ee00", "strokeWidth": 0.8, "point": {"filled": true, "size": 28, "color": "#00ee00", "opacity": 1}},
     "encoding": {"x": {"field": "x", "type": "quantitative", "scale": {"domain": [40, 60], "nice": false, "zero": false}, "axis": null},
        "y": {"field": "dp", "type": "quantitative", "scale": {"domain": [-4, 24], "nice": false, "zero": false}, "axis": null}}},
    {"data": {"name": "rs"}, "mark": {"type": "line", "color": "#ff0000", "strokeWidth": 0.8, "point": {"filled": true, "size": 28, "color": "#ff0000", "opacity": 1}},
     "encoding": {"x": {"field": "x", "type": "quantitative", "scale": {"domain": [40, 60], "nice": false, "zero": false}, "axis": null},
        "y": {"field": "dn", "type": "quantitative", "scale": {"domain": [-4, 24], "nice": false, "zero": false}, "axis": null}}},
    {"data": {"values": [{"t": "Lindenberg LDGB", "x": 45.03, "y": 18.9}]},
     "mark": {"type": "text", "align": "left", "baseline": "alphabetic", "fontSize": 31, "color": "#000000"},
     "encoding": {"x": {"field": "x", "type": "quantitative", "scale": {"domain": [40, 60], "nice": false, "zero": false}, "axis": null},
        "y": {"field": "y", "type": "quantitative", "scale": {"domain": [-4, 24], "nice": false, "zero": false}, "axis": null}, "text": {"field": "t"}}},
    {"data": {"values": [{"t": "Difference to RS", "x": 41.03, "y": -3.41}]},
     "mark": {"type": "text", "align": "left", "baseline": "alphabetic", "fontSize": 18, "color": "#000000"},
     "encoding": {"x": {"field": "x", "type": "quantitative", "scale": {"domain": [40, 60], "nice": false, "zero": false}, "axis": null},
        "y": {"field": "y", "type": "quantitative", "scale": {"domain": [-4, 24], "nice": false, "zero": false}, "axis": null}, "text": {"field": "t"}}},
    {"data": {"values": [
        {"t": "NRT", "x": 53.02, "y": 20.0, "c": "NRT"},
        {"t": "POST", "x": 53.02, "y": 18.0, "c": "POST"},
        {"t": "RS", "x": 53.02, "y": 16.0, "c": "RS"},
        {"t": "LM", "x": 53.02, "y": 14.0, "c": "LM"},
        {"t": "NRT-Post", "x": 54.41, "y": 20.0, "c": "LM"},
        {"t": "NRT-RS", "x": 54.41, "y": 18.0, "c": "LM"},
        {"t": "Post-RS", "x": 54.41, "y": 16.0, "c": "LM"},
        {"t": "NRT-LM", "x": 54.41, "y": 14.0, "c": "LM"},
        {"t": ":-0.02+-1.08", "x": 56.54, "y": 20.0, "c": "LM"},
        {"t": ": 1.15+-1.33", "x": 56.54, "y": 18.0, "c": "LM"},
        {"t": ": 1.07+-1.02", "x": 56.54, "y": 16.0, "c": "LM"},
        {"t": ": 0.11+-1.21", "x": 56.54, "y": 14.0, "c": "LM"}]},
     "mark": {"type": "text", "align": "left", "baseline": "alphabetic", "fontSize": 18},
     "encoding": {"x": {"field": "x", "type": "quantitative", "scale": {"domain": [40, 60], "nice": false, "zero": false}, "axis": null},
        "y": {"field": "y", "type": "quantitative", "scale": {"domain": [-4, 24], "nice": false, "zero": false}, "axis": null}, "text": {"field": "t"},
        "color": {"field": "c", "type": "nominal", "scale": {"domain": ["NRT", "POST", "WVR", "RS", "LM"], "range": ["#ff0000", "#00ee00", "#00eaff", "#00eaff", "#000000"]}, "legend": null}}}
  ]
}
]
}
